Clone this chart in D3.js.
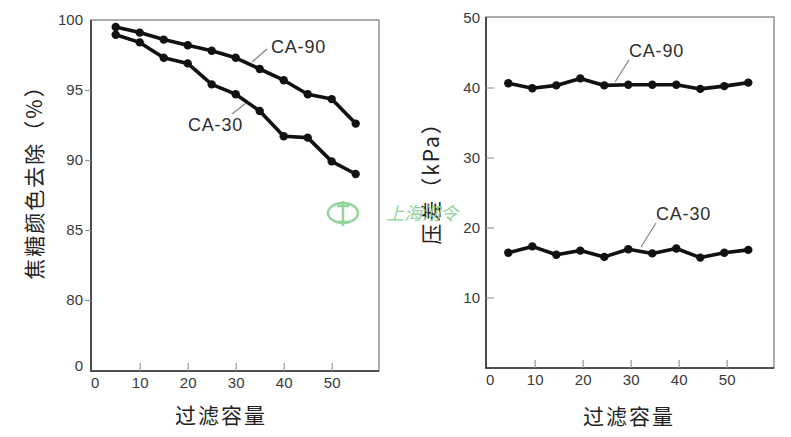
<!DOCTYPE html>
<html>
<head>
<meta charset="utf-8">
<script src="https://cdn.jsdelivr.net/npm/d3@7"></script>
<style>
  html, body { margin: 0; padding: 0; background: #fff; }
  svg { display: block; font-family: "Liberation Sans", Arial, sans-serif; }
</style>
</head>
<body>
<div id="chart"></div>
<script>
// filtration volume (x) and series values
var xLeft = [5, 10, 15, 20, 25, 30, 35, 40, 45, 50, 55];
var removal90 = [99.5, 99.1, 98.6, 98.2, 97.8, 97.3, 96.5, 95.7, 94.7, 94.35, 92.6];
var removal30 = [98.95, 98.4, 97.3, 96.9, 95.4, 94.7, 93.5, 91.7, 91.6, 89.9, 89.0];

var xRight = [4.5, 9.5, 14.5, 19.5, 24.5, 29.5, 34.5, 39.5, 44.5, 49.5, 54.5];
var dp90 = [40.6, 39.9, 40.3, 41.3, 40.3, 40.4, 40.4, 40.4, 39.8, 40.2, 40.7];
var dp30 = [16.4, 17.3, 16.1, 16.7, 15.8, 16.9, 16.3, 17.0, 15.7, 16.4, 16.8];

var xTicks = [0, 10, 20, 30, 40, 50];
var leftYTicks = [0, 80, 85, 90, 95, 100];
var rightYTicks = [10, 20, 30, 40, 50];
var xTitle = '过滤容量';
var leftYTitle = '焦糖颜色去除（%）';
var rightYTitle = '压差（kPa）';

(function () {
  'use strict';
  var W = 791, H = 437;
  var svg = d3.select('#chart').append('svg').attr('width', W).attr('height', H);
  var tickColor = '#3a3a3a';

  function styleAxis(sel) {
    sel.select('.domain').remove();
    sel.selectAll('.tick line').attr('stroke', '#999').attr('stroke-width', 1.2);
    sel.selectAll('.tick text').attr('fill', tickColor).attr('font-size', 15)
      .attr('font-family', '"Liberation Sans", Arial, sans-serif');
  }

  function panel(opt) {
    var x = d3.scaleLinear().domain([0, 60]).range(opt.xr);
    var y = d3.scaleLinear().domain(opt.yd).range(opt.yr);

    // frame
    svg.append('rect').attr('x', opt.frame[0]).attr('y', opt.frame[1])
      .attr('width', opt.frame[2]).attr('height', opt.frame[3])
      .attr('fill', 'none').attr('stroke', '#777').attr('stroke-width', 1.2);
    svg.append('path')
      .attr('d', 'M' + opt.frame[0] + ',' + opt.frame[1] + 'V' + (opt.frame[1] + opt.frame[3]) +
        'H' + (opt.frame[0] + opt.frame[2]))
      .attr('fill', 'none').attr('stroke', '#333').attr('stroke-width', 1.6);

    var bottom = opt.frame[1] + opt.frame[3];
    var gx = svg.append('g').attr('transform', 'translate(0,' + bottom + ')')
      .call(d3.axisBottom(x).tickValues(xTicks).tickSize(-8).tickPadding(6));
    styleAxis(gx);
    gx.selectAll('.tick').filter(function (d) { return d === 0; }).select('line').remove();
    gx.selectAll('.tick').filter(function (d) { return d === 0; }).select('text').attr('x', 3);

    var gy = svg.append('g').attr('transform', 'translate(' + opt.frame[0] + ',0)')
      .call(d3.axisLeft(y).tickValues(opt.yTicks).tickSize(opt.ySize).tickPadding(opt.yPad));
    styleAxis(gy);
    gy.selectAll('.tick').filter(function (d) { return d === 0 || d === opt.yd[opt.yd.length - 1]; })
      .select('line').remove();

    var line = d3.line().x(function (d) { return x(d[0]); }).y(function (d) { return y(d[1]); });
    opt.series.forEach(function (s) {
      var pts = s.xs.map(function (v, i) { return [v, s.vals[i]]; });
      svg.append('path').datum(pts).attr('d', line)
        .attr('fill', 'none').attr('stroke', '#111').attr('stroke-width', 3.6)
        .attr('stroke-linejoin', 'round');
      svg.selectAll(null).data(pts).enter().append('circle')
        .attr('cx', function (d) { return x(d[0]); })
        .attr('cy', function (d) { return y(d[1]); })
        .attr('r', 4.2).attr('fill', '#111');
      // leader + label
      svg.append('line').attr('x1', s.lead[0]).attr('y1', s.lead[1])
        .attr('x2', s.lead[2]).attr('y2', s.lead[3])
        .attr('stroke', '#888').attr('stroke-width', 1.3);
      svg.append('text').attr('x', s.lab[0]).attr('y', s.lab[1])
        .attr('font-size', 18).attr('letter-spacing', 0.8).attr('fill', '#2e2e2e')
        .text(s.name);
    });

    svg.append('text').attr('x', opt.xTitle[0]).attr('y', opt.xTitle[1])
      .attr('text-anchor', 'middle').attr('font-size', 21).attr('letter-spacing', 2)
      .attr('font-family', '"Noto Sans CJK SC", sans-serif').attr('fill', '#222')
      .text(xTitle);
    svg.append('text')
      .attr('transform', 'translate(' + opt.yTitle[0] + ',' + opt.yTitle[1] + ') rotate(-90)')
      .attr('text-anchor', 'middle').attr('dominant-baseline', 'central')
      .attr('font-size', 21).attr('letter-spacing', 2)
      .attr('font-family', '"Noto Sans CJK SC", sans-serif').attr('fill', '#222')
      .text(opt.yTitleText);
  }

  panel({
    xr: [91.7, 379.7], yd: [0, 80, 100], yr: [366, 300, 20],
    frame: [91, 20, 288, 351], yTicks: leftYTicks, ySize: 6, yPad: 2,
    series: [
      { name: 'CA-90', xs: xLeft, vals: removal90, lead: [267, 49, 252, 62], lab: [271, 53] },
      { name: 'CA-30', xs: xLeft, vals: removal30, lead: [232, 114, 246, 103], lab: [188, 131] }
    ],
    xTitle: [221, 423], yTitle: [33, 177], yTitleText: leftYTitle
  });

  panel({
    xr: [486.7, 774.7], yd: [0, 50], yr: [367.5, 17.5],
    frame: [486, 17, 288, 351], yTicks: rightYTicks, ySize: -8, yPad: 6,
    series: [
      { name: 'CA-90', xs: xRight, vals: dp90, lead: [629, 60, 615, 82], lab: [629, 57] },
      { name: 'CA-30', xs: xRight, vals: dp30, lead: [656, 223, 641, 247], lab: [656, 220] }
    ],
    xTitle: [629, 424], yTitle: [430, 178], yTitleText: rightYTitle
  });

  // watermark
  var wm = svg.append('g').attr('fill', 'none').attr('stroke', '#7fcf8a').attr('stroke-width', 2.5)
    .attr('opacity', 0.85);
  wm.append('ellipse').attr('cx', 343).attr('cy', 213).attr('rx', 15).attr('ry', 10);
  wm.append('path').attr('d', 'M343,201V226M336,222H350M337,206H349');
  svg.append('text').attr('x', 386).attr('y', 220).attr('font-size', 18)
    .attr('font-style', 'italic').attr('fill', '#8fd49a')
    .attr('font-family', '"Noto Sans CJK SC", sans-serif').text('上海沏令');
})();
</script>
</body>
</html>
